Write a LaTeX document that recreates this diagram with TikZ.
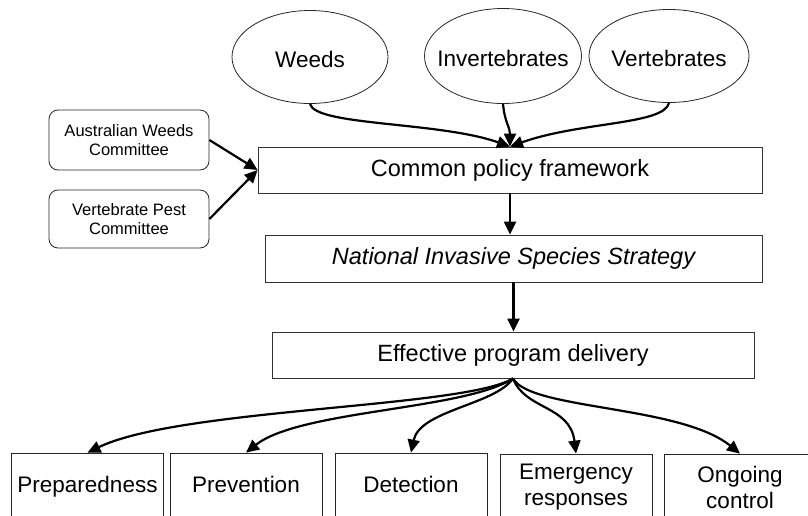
\documentclass[tikz,border=0pt]{standalone}
\usepackage{fontspec}
\setmainfont{Liberation Sans}
\usetikzlibrary{shapes.geometric,arrows.meta}
\begin{document}
\begin{tikzpicture}[x=1pt,y=-1pt,
  box/.style={draw=black!80,line width=0.8pt,inner sep=0pt,font=\fontsize{23.5}{26}\selectfont,align=center},
  ell/.style={ellipse,draw=black!85,line width=0.8pt,inner sep=0pt},
  elltext/.style={font=\fontsize{22.5}{26}\selectfont,yshift=-2pt},
  comm/.style={draw=black!85,line width=0.8pt,rounded corners=9pt,inner sep=0pt,font=\fontsize{16.5}{18.5}\selectfont,align=center},
  bot/.style={draw=black!85,line width=0.8pt,inner sep=0pt,minimum width=152pt,minimum height=66pt,font=\fontsize{22.5}{26}\selectfont,align=center},
  single/.style={text height=17pt,text depth=5pt},
  conn/.style={line width=2.2pt,-{Triangle[length=13pt,width=12pt]}}
]
\useasboundingbox (0,0) rectangle (808,515);
\clip (0,0) rectangle (808,515);
\fill[white] (0,0) rectangle (808,515);

\node[ell,minimum width=156pt,minimum height=93pt,label={[elltext]center:Weeds}] (weeds) at (310,57) {};
\node[ell,minimum width=157pt,minimum height=95pt,label={[elltext]center:Invertebrates}] (inv) at (503,56) {};
\node[ell,minimum width=160pt,minimum height=93pt,label={[elltext]center:Vertebrates}] (vert) at (669,56) {};

\node[comm,minimum width=160pt,minimum height=60pt] (aw) at (129,140) {Australian Weeds\\Committee};
\node[comm,minimum width=160pt,minimum height=58pt] (vp) at (129,219) {Vertebrate Pest\\Committee};

\node[box,minimum width=504pt,minimum height=46pt] (cpf) at (510,170) {Common policy framework};
\node[box,minimum width=497pt,minimum height=47pt,font={\fontsize{23.5}{26}\selectfont\itshape}] (niss) at (513.5,258.5) {National Invasive Species Strategy};
\node[box,minimum width=482pt,minimum height=46pt] (epd) at (513,355) {Effective program delivery};

\node[bot,single] (prep) at (87.5,486) {Preparedness};
\node[bot,single] (prev) at (246,486) {Prevention};
\node[bot,single] (det) at (411,486) {Detection};
\node[bot] (emer) at (576,487) {Emergency\\responses};
\node[bot] (ong) at (740,487) {Ongoing\\control};

\draw[conn] (weeds.south) .. controls +(5,22) and +(-70,-25) .. (cpf.north);
\draw[conn] (inv.south) .. controls +(2,20) and +(0,-20) .. (cpf.north);
\draw[conn] (vert.south) .. controls +(-5,22) and +(70,-25) .. (cpf.north);

\draw[conn] (aw.east) -- (cpf.west);
\draw[conn] (vp.east) -- (cpf.west);
\draw[conn] (cpf.south) -- (cpf.south |- niss.north);
\draw[conn] (niss.south) -- (niss.south |- epd.north);

\draw[conn] (epd.south) .. controls (465,408) and (180,408) .. (prep.north);
\draw[conn] (epd.south) .. controls (465,410) and (300,410) .. (prev.north);
\draw[conn] (epd.south) .. controls (495,405) and (420,410) .. (det.north);
\draw[conn] (epd.south) .. controls (525,410) and (570,405) .. (emer.north);
\draw[conn] (epd.south) .. controls (530,410) and (680,405) .. (ong.north);
\end{tikzpicture}
\end{document}
